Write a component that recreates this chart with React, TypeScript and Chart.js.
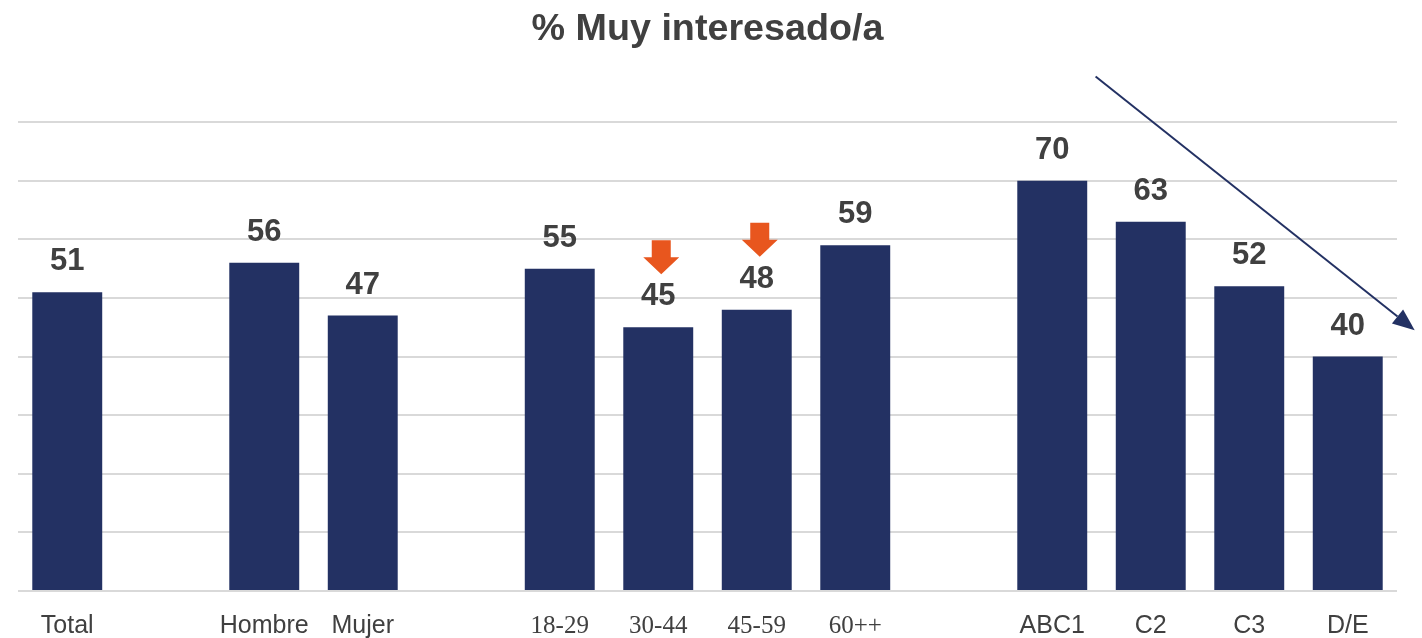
import React, { useEffect, useRef } from "react";
import { Chart, registerables } from "chart.js";

Chart.register(...registerables);

const categories = ["Total", "", "Hombre", "Mujer", "", "18-29", "30-44", "45-59", "60++", "", "ABC1", "C2", "C3", "D/E"];
const values: (number | null)[] = [51, null, 56, 47, null, 55, 45, 48, 59, null, 70, 63, 52, 40];
const serifLabels = ["18-29", "30-44", "45-59", "60++"];
const downFlagged = ["30-44", "45-59"];
const yTicks = [0, 10, 20, 30, 40, 50, 60, 70, 80];
const trendStart = { x: 10.44, y: 87.8 };
const trendEnd = { x: 13.68, y: 44.5 };

const TITLE = "% Muy interesado/a";
const BAR_COLOR = "#233163";
const TEXT_COLOR = "#404040";
const ORANGE = "#E8561E";

const overlayPlugin = {
  id: "overlay",
  afterDatasetsDraw(chart: any) {
    const ctx = chart.ctx;
    const meta = chart.getDatasetMeta(0);
    ctx.save();
    // value labels
    ctx.font = "bold 31px 'Liberation Sans', Arial, sans-serif";
    ctx.fillStyle = TEXT_COLOR;
    ctx.textAlign = "center";
    ctx.textBaseline = "alphabetic";
    meta.data.forEach((bar: any, i: number) => {
      const v = values[i];
      if (v === null || v === undefined) return;
      ctx.fillText(String(v), bar.x, bar.y - 22);
    });
    // orange down arrows
    ctx.fillStyle = ORANGE;
    meta.data.forEach((bar: any, i: number) => {
      if (!downFlagged.includes(categories[i])) return;
      const cx = bar.x + 3;
      const bottom = bar.y - 53;
      const top = bottom - 34;
      const headTop = bottom - 17;
      ctx.beginPath();
      ctx.moveTo(cx - 9.5, top);
      ctx.lineTo(cx + 9.5, top);
      ctx.lineTo(cx + 9.5, headTop);
      ctx.lineTo(cx + 18, headTop);
      ctx.lineTo(cx, bottom);
      ctx.lineTo(cx - 18, headTop);
      ctx.lineTo(cx - 9.5, headTop);
      ctx.closePath();
      ctx.fill();
    });
    // trend arrow
    const xs = chart.scales.x;
    const ys = chart.scales.y;
    const x1 = xs.getPixelForValue(trendStart.x);
    const y1 = ys.getPixelForValue(trendStart.y);
    const x2 = xs.getPixelForValue(trendEnd.x);
    const y2 = ys.getPixelForValue(trendEnd.y);
    const ang = Math.atan2(y2 - y1, x2 - x1);
    const headLen = 22;
    const headHalf = 9;
    const bx = x2 - headLen * Math.cos(ang);
    const by = y2 - headLen * Math.sin(ang);
    ctx.strokeStyle = BAR_COLOR;
    ctx.lineWidth = 2;
    ctx.beginPath();
    ctx.moveTo(x1, y1);
    ctx.lineTo(bx, by);
    ctx.stroke();
    ctx.fillStyle = BAR_COLOR;
    ctx.beginPath();
    ctx.moveTo(x2, y2);
    ctx.lineTo(bx + headHalf * Math.sin(ang), by - headHalf * Math.cos(ang));
    ctx.lineTo(bx - headHalf * Math.sin(ang), by + headHalf * Math.cos(ang));
    ctx.closePath();
    ctx.fill();
    ctx.restore();
  },
};

export default function App() {
  const ref = useRef<HTMLCanvasElement | null>(null);
  useEffect(() => {
    document.body.style.margin = "0";
    if (!ref.current) return;
    const chart = new Chart(ref.current, {
      type: "bar",
      data: {
        labels: categories,
        datasets: [
          {
            data: values as any,
            backgroundColor: BAR_COLOR,
            borderWidth: 0,
            barPercentage: 0.71,
            categoryPercentage: 1,
          },
        ],
      },
      options: {
        responsive: false,
        animation: false,
        layout: { padding: { left: 18, right: 25, top: 0, bottom: -16 } },
        plugins: {
          legend: { display: false },
          tooltip: { enabled: false },
          title: {
            display: true,
            text: TITLE,
            color: TEXT_COLOR,
            font: { family: "'Liberation Sans', Arial, sans-serif", size: 37.7, weight: "bold", lineHeight: 1.2 },
            padding: { top: 7, bottom: 70 },
          },
        },
        scales: {
          x: {
            grid: { display: false },
            border: { display: false },
            ticks: {
              autoSkip: false,
              maxRotation: 0,
              padding: 15,
              color: TEXT_COLOR,
              font: (c: any) => {
                const lbl = categories[c.index];
                return serifLabels.includes(lbl)
                  ? { family: "'Liberation Serif', 'Times New Roman', serif", size: 25, lineHeight: 1 }
                  : { family: "'Liberation Sans', Arial, sans-serif", size: 25, lineHeight: 1 };
              },
            },
          },
          y: {
            min: yTicks[0],
            max: yTicks[yTicks.length - 1],
            afterBuildTicks: (s: any) => {
              s.ticks = yTicks.map((v) => ({ value: v }));
            },
            grid: { color: "#d9d9d9", lineWidth: 2, drawTicks: false },
            border: { display: false },
            ticks: { display: false },
          },
        },
      },
      plugins: [overlayPlugin],
    });
    return () => chart.destroy();
  }, []);
  return (
    <div style={{ width: 1422, height: 638 }}>
      <canvas ref={ref} width={1422} height={638} style={{ display: "block" }} />
    </div>
  );
}
